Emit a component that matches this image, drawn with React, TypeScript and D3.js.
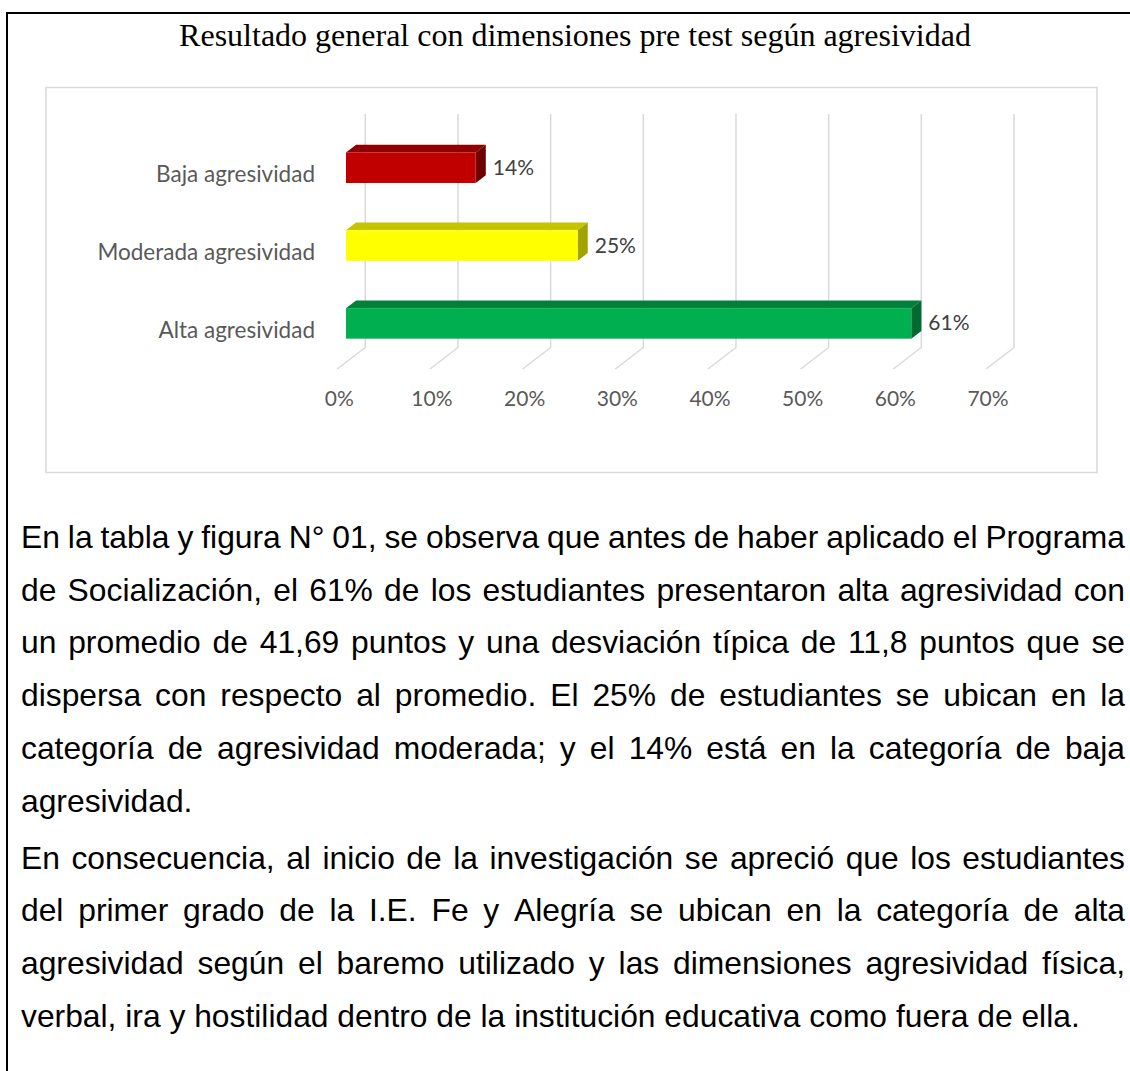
import React, { useMemo } from 'react';
import * as d3 from 'd3';

// categories and values
const categories = ['Baja agresividad', 'Moderada agresividad', 'Alta agresividad'];
const values = [0.14, 0.25, 0.61];
const tickValues = [0, 0.1, 0.2, 0.3, 0.4, 0.5, 0.6, 0.7];
const frontColors = ['#c00000', '#ffff00', '#00b050'];
const topColors = ['#900000', '#c4c400', '#008038'];
const sideColors = ['#700000', '#a3a300', '#006b30'];

const title = 'Resultado general con dimensiones pre test según agresividad';

const paragraph1 = [
  'En la tabla y figura N° 01, se observa que antes de haber aplicado el Programa',
  'de Socialización, el 61% de los estudiantes presentaron alta agresividad con',
  'un promedio de 41,69 puntos y una desviación típica de 11,8 puntos que se',
  'dispersa con respecto al promedio. El 25% de estudiantes se ubican en la',
  'categoría de agresividad moderada; y el 14% está en la categoría de baja',
  'agresividad.',
];
const paragraph2 = [
  'En consecuencia, al inicio de la investigación se apreció que los estudiantes',
  'del primer grado de la I.E. Fe y Alegría se ubican en la categoría de alta',
  'agresividad según el baremo utilizado y las dimensiones agresividad física,',
  'verbal, ira y hostilidad dentro de la institución educativa como fuera de ella.',
];

const width = 1130;
const height = 1071;

const bodyFont = '"Liberation Sans", Arial, sans-serif';
const bodySize = 31.8;
const textLeft = 21;
const textRight = 1125;
const lineGap = 52.7;

// 3d depth of the floor: back wall sits up and right of the front edge
const depthX = 28;
const depthY = -21.5;
const barNear = 0.31;
const barFar = 0.67;

function measure(words: string[]) {
  const ctx = document.createElement('canvas').getContext('2d')!;
  ctx.font = `${bodySize}px "Liberation Sans"`;
  return words.map(w => ctx.measureText(w).width);
}

function Paragraph({ lines, top }: { lines: string[]; top: number }) {
  const rows = useMemo(() => lines.map((line, i) => {
    const words = line.split(' ');
    const widths = measure(words);
    const last = i === lines.length - 1;
    const spaceW = measure([' '])[0];
    const gap = last || words.length < 2
      ? spaceW
      : (textRight - textLeft - d3.sum(widths)) / (words.length - 1);
    let x = textLeft;
    return words.map((w, j) => {
      const pos = x;
      x += widths[j] + gap;
      return { w, x: pos };
    });
  }), [lines]);

  return (
    <text fontFamily={bodyFont} fontSize={bodySize} fill="#000">
      {rows.map((row, i) => row.map((d, j) => (
        <tspan key={i + '-' + j} x={d.x} y={top + i * lineGap}>{d.w}</tspan>
      )))}
    </text>
  );
}

export default function App() {
  const x = d3.scaleLinear().domain([0, 0.7]).range([337.3, 986]);
  const y = d3.scaleBand<string>()
    .domain(categories)
    .range([135.5, 369])
    .paddingInner(0.608)
    .paddingOuter(0.304);

  const backTop = 114;
  const floorFront = 369;
  const bdx = depthX * (barFar - barNear);
  const bdy = depthY * (barFar - barNear);
  const pct = d3.format('.0%');

  return (
    <svg width={width} height={height} style={{ position: 'absolute', left: 0, top: 0, background: '#fff' }}>
      {/* page frame */}
      <line x1={7} x2={width} y1={13} y2={13} stroke="#000" strokeWidth={2} />
      <line x1={7} x2={7} y1={12} y2={height} stroke="#000" strokeWidth={2} />

      <text x={575} y={46} textAnchor="middle" fontFamily='"Liberation Serif", "Times New Roman", serif' fontSize={32} fill="#000">
        {title}
      </text>

      <rect x={46} y={87.5} width={1051} height={385} fill="#fff" stroke="#d9d9d9" strokeWidth={1.5} />

      {/* gridlines on back wall and floor */}
      <g fill="none" stroke="#d9d9d9" strokeWidth={1.5}>
        {tickValues.map(t => (
          <polyline key={t} points={[
            [x(t) + depthX, backTop],
            [x(t) + depthX, floorFront + depthY],
            [x(t), floorFront],
          ].map(p => p.join(',')).join(' ')} />
        ))}
      </g>

      <g fontFamily="Lato, sans-serif" fontSize={21} fill="#595959">
        {tickValues.map(t => (
          <text key={t} x={x(t) + 2} y={406} textAnchor="middle">{pct(t)}</text>
        ))}
      </g>

      <g fontFamily="Lato, sans-serif" fontSize={22.5} fill="#595959" textAnchor="end">
        {categories.map(c => (
          <text key={c} x={315} y={y(c)! + y.bandwidth() / 2 + 7.8}>{c}</text>
        ))}
      </g>

      {/* 3d bars */}
      {categories.map((c, i) => {
        const x0 = x(0) + depthX * barNear;
        const x1 = x(values[i]) + depthX * barNear;
        const yt = y(c)! + depthY * barNear;
        const yb = yt + y.bandwidth();
        const pts = (arr: number[][]) => arr.map(p => p.join(',')).join(' ');
        return (
          <g key={c}>
            <polygon fill={topColors[i]} points={pts([[x0, yt], [x1, yt], [x1 + bdx, yt + bdy], [x0 + bdx, yt + bdy]])} />
            <polygon fill={sideColors[i]} points={pts([[x1, yt], [x1 + bdx, yt + bdy], [x1 + bdx, yb + bdy], [x1, yb]])} />
            <rect x={x0} y={yt} width={x1 - x0} height={yb - yt} fill={frontColors[i]} />
            <text x={x1 + bdx + 7} y={(yt + yb) / 2 + 7} fontFamily="Lato, sans-serif" fontSize={21} fill="#404040">
              {pct(values[i])}
            </text>
          </g>
        );
      })}

      <Paragraph lines={paragraph1} top={548} />
      <Paragraph lines={paragraph2} top={548 + 5 * lineGap + 57} />
    </svg>
  );
}
